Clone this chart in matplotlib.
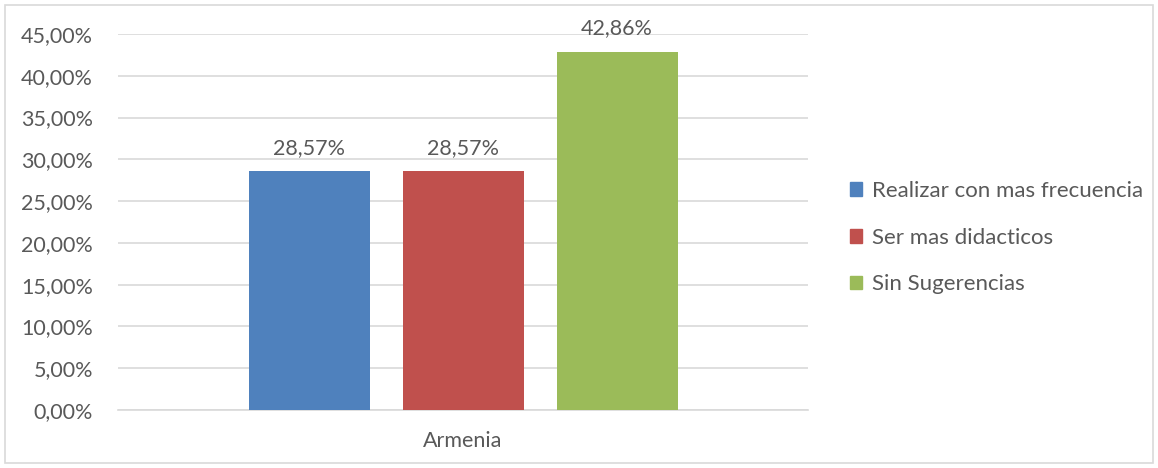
import matplotlib
matplotlib.use("Agg")
import matplotlib.pyplot as plt
from matplotlib.patches import Rectangle, Patch
from matplotlib.ticker import FuncFormatter

categories = ["Armenia"]
series_names = ["Realizar con mas frecuencia", "Ser mas didacticos", "Sin Sugerencias"]
values = [28.57, 28.57, 42.86]
colors = ["#4F81BD", "#C0504D", "#9BBB59"]
yticks = [0, 5, 10, 15, 20, 25, 30, 35, 40, 45]

plt.rcParams['font.family'] = ['Lato', 'DejaVu Sans']
txt = "#595959"
fs = 15.5

fig = plt.figure(figsize=(11.58, 4.68), dpi=100)
ax = fig.add_axes([118/1158, 1-410/468, 690/1158, 376/468])

width = 121/690
step = 154/690
for i, (name, v, c) in enumerate(zip(series_names, values, colors)):
    x = (i - 1) * step
    ax.bar(x, v, width=width, color=c, label=name, zorder=3)
    ax.text(x, v + 1.6, f"{v:.2f}%".replace(".", ","), ha="center", va="bottom",
            fontsize=fs, color=txt)

ax.set_xlim(-0.5, 0.5)
ax.set_ylim(0, 45)
ax.set_yticks(yticks)
ax.yaxis.set_major_formatter(FuncFormatter(lambda v, p: f"{v:.2f}%".replace(".", ",")))
ax.set_xticks([0])
ax.set_xticklabels(categories)
ax.tick_params(axis="both", length=0, labelsize=fs, labelcolor=txt)
ax.tick_params(axis="y", pad=18)
ax.tick_params(axis="x", pad=15)
ax.grid(axis="y", color="#D9D9D9", linewidth=1.2, zorder=0)
for s in ["top", "right", "left"]:
    ax.spines[s].set_visible(False)
ax.spines["bottom"].set_color("#D9D9D9")
ax.spines["bottom"].set_linewidth(1.2)

handles = [Patch(color=c) for c in colors]
leg = fig.legend(handles, series_names, loc="upper left",
                 bbox_to_anchor=(850/1158, 1-181/468), frameon=False,
                 fontsize=16, labelcolor=txt, handlelength=0.55, handleheight=0.55,
                 handletextpad=0.45, labelspacing=1.2, borderaxespad=0,
                 borderpad=0)

fig.patches.append(Rectangle((5/1158, 5/468), 1148/1158, 458/468, transform=fig.transFigure,
                             fill=False, edgecolor="#D9D9D9", linewidth=1.2))

fig.savefig("out.png", dpi=100)
